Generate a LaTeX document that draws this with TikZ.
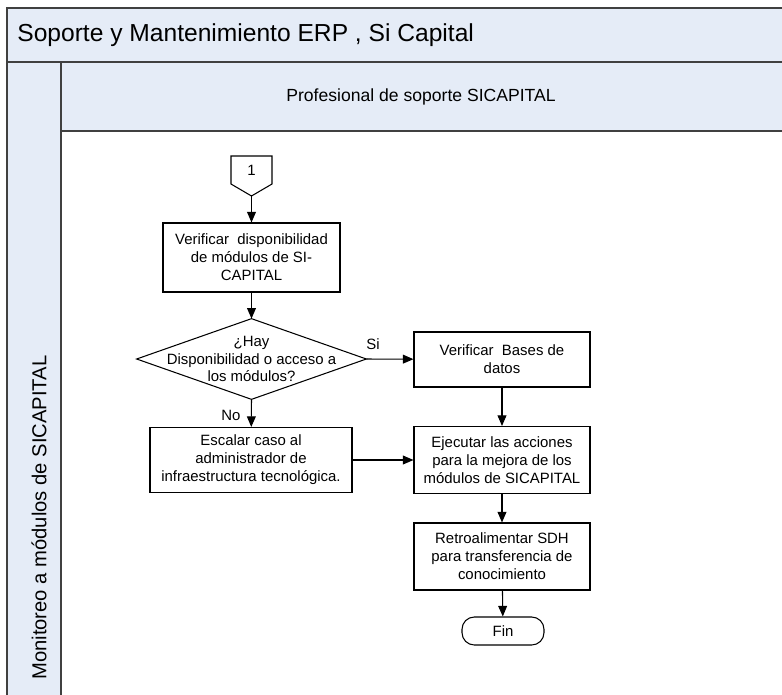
\documentclass[tikz,border=0pt]{standalone}
\usepackage{fontspec}
\setmainfont{Liberation Sans}
\usetikzlibrary{arrows.meta}
\definecolor{lanefill}{RGB}{229,236,247}
\definecolor{laneline}{RGB}{64,64,64}
\begin{document}
\begin{tikzpicture}[x=0.02cm,y=-0.02cm,
  lane/.style={fill=lanefill,draw=laneline,line width=1.2pt},
  proc/.style={draw,line width=0.6pt,align=center,inner sep=1pt,font=\fontsize{8.5}{10.2}\selectfont},
  lbl/.style={font=\fontsize{8.5}{10.2}\selectfont},
  flow/.style={-{Triangle[length=6pt,width=5pt]},line width=0.6pt}]
\useasboundingbox (0,0) rectangle (782,694);
\filldraw[lane] (7,8) rectangle (800,62);
\filldraw[lane] (61,62) rectangle (800,131);
\filldraw[lane] (7,62) rectangle (61,720);
\node[anchor=west,inner sep=0,font=\fontsize{14}{16}\selectfont] (pool) at (17,35) {Soporte y Mantenimiento ERP , Si Capital};
\node[font=\fontsize{10}{12}\selectfont] (role) at (421,97) {Profesional de soporte SICAPITAL};
\node[rotate=90,anchor=west,inner sep=0,font=\fontsize{11.5}{13}\selectfont] (phase) at (39,680) {Monitoreo a módulos de SICAPITAL};
\draw[line width=0.6pt] (231,156) -- (272,156) -- (272,184) -- (251.5,196) -- (231,184) -- cycle;
\node[lbl] (c1) at (251.5,170) {1};
\coordinate (c1tip) at (251.5,196);
\node[proc,minimum width=3.54cm,minimum height=1.38cm] (verif) at (251.5,257.5) {Verificar\ \ disponibilidad\\de módulos de SI-\\CAPITAL};
\node[lbl,align=center,inner sep=0,minimum width=4.58cm,minimum height=1.6cm] (hay) at (251.5,359) {¿Hay\\Disponibilidad o acceso a\\los módulos?};
\draw[line width=0.6pt] (hay.north) -- (hay.east) -- (hay.south) -- (hay.west) -- cycle;
\node[proc,minimum width=3.52cm,minimum height=1.1cm] (bases) at (502,359.5) {Verificar\ \ Bases de\\datos};
\node[proc,minimum width=4.04cm,minimum height=1.3cm] (escalar) at (251,460) {Escalar caso al\\administrador de\\infraestructura tecnológica.};
\node[proc,minimum width=3.52cm,minimum height=1.34cm] (ejecutar) at (502,460) {Ejecutar las acciones\\para la mejora de los\\módulos de SICAPITAL};
\node[proc,minimum width=3.52cm,minimum height=1.34cm] (retro) at (502,556.5) {Retroalimentar SDH\\para transferencia de\\conocimiento};
\node[proc,rounded corners=7pt,minimum width=1.64cm,minimum height=0.56cm] (fin) at (503,631) {Fin};
\node[lbl] (si) at (373,344) {Si};
\node[lbl] (no) at (231,415) {No};
\draw[flow] (c1tip) -- (verif);
\draw[flow] (verif) -- (hay);
\draw[flow] (hay.east) -- (bases);
\draw[flow] (hay.south) -- (escalar);
\draw[flow] (bases) -- (ejecutar);
\draw[flow] (escalar.east) -- (ejecutar.west);
\draw[flow] (ejecutar) -- (retro);
\draw[flow] (retro) -- (fin);
\end{tikzpicture}
\end{document}
